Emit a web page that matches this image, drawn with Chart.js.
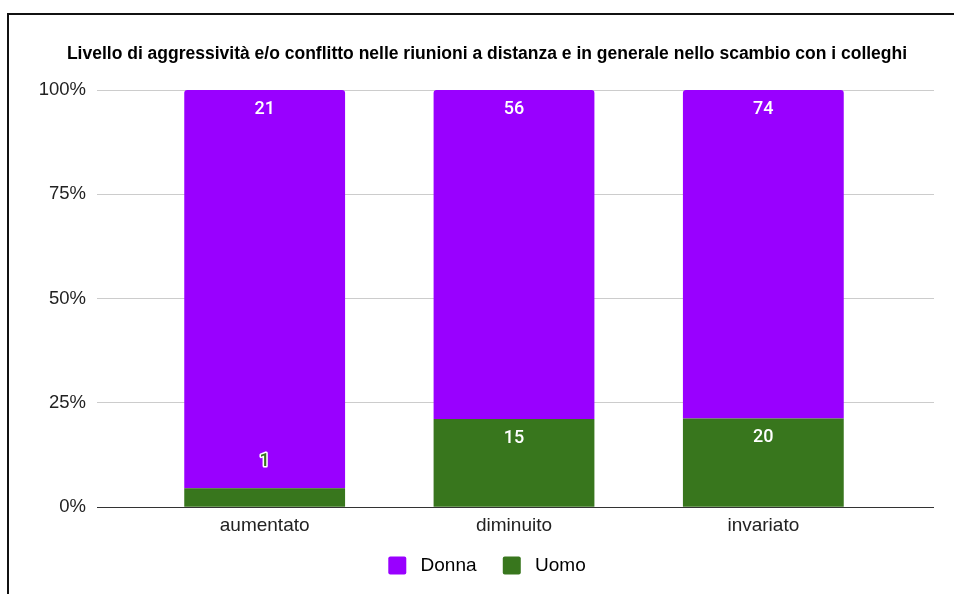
<!DOCTYPE html>
<html>
<head>
<meta charset="utf-8">
<script src="https://cdn.jsdelivr.net/npm/chart.js@4.4.0/dist/chart.umd.min.js"></script>
<style>
  html, body { margin: 0; padding: 0; background: #fff; overflow: hidden; width: 954px; height: 594px; }
  #frame { position: absolute; left: 7px; top: 13px; width: 960px; height: 600px; border-left: 2px solid #111; border-top: 2px solid #111; }
  #wrap { position: absolute; left: 9px; top: 15px; width: 956px; height: 580px; }
</style>
</head>
<body>
<div id="frame"></div>
<div id="wrap"><canvas id="chart" width="956" height="580"></canvas></div>
<script>
// Chart data (raw counts, shown as 100% stacked)
const categories = ['aumentato', 'diminuito', 'invariato'];
const donnaCounts = [21, 56, 74];
const uomoCounts = [1, 15, 20];
const yTickLabels = ['0%', '25%', '50%', '75%', '100%'];

const chartTitle = 'Livello di aggressività e/o conflitto nelle riunioni a distanza e in generale nello scambio con i colleghi';

// percentages per category
const totals = categories.map((c, i) => donnaCounts[i] + uomoCounts[i]);
const donnaPct = donnaCounts.map((v, i) => v / totals[i] * 100);
const uomoPct = uomoCounts.map((v, i) => v / totals[i] * 100);

const PURPLE = '#9900ff';
const GREEN = '#38761d';
const FONT = 'Arial, "Liberation Sans", sans-serif';

// Draws the count labels inside the bars
const countLabels = {
    id: 'countLabels',
    afterDatasetsDraw(chart) {
        const ctx = chart.ctx;
        ctx.save();
        ctx.font = '500 18px Roboto, Arial, sans-serif';
        ctx.textAlign = 'center';
        ctx.textBaseline = 'middle';
        chart.data.datasets.forEach((ds, di) => {
            const meta = chart.getDatasetMeta(di);
            meta.data.forEach((bar, i) => {
                const txt = String(ds.counts[i]);
                const h = Math.abs(bar.base - bar.y);
                if (h >= 36) {
                    ctx.fillStyle = '#ffffff';
                    ctx.fillText(txt, bar.x, bar.y + 19);
                } else {
                    // small segment: label sits above it, outlined
                    const y = bar.y - 27;
                    ctx.lineWidth = 3;
                    ctx.strokeStyle = '#ffffff';
                    ctx.lineJoin = 'round';
                    ctx.strokeText(txt, bar.x, y);
                    ctx.fillStyle = ds.backgroundColor;
                    ctx.fillText(txt, bar.x, y);
                }
            });
        });
        ctx.restore();
    }
};

const gridColor = (c) => (c.tick && c.tick.value === 0) ? '#333333' : '#cccccc';

new Chart(document.getElementById('chart'), {
    type: 'bar',
    data: {
        labels: categories,
        datasets: [
            {
                label: 'Uomo',
                data: uomoPct,
                counts: uomoCounts,
                backgroundColor: GREEN,
                categoryPercentage: 1,
                barPercentage: 0.645
            },
            {
                label: 'Donna',
                data: donnaPct,
                counts: donnaCounts,
                backgroundColor: PURPLE,
                borderRadius: { topLeft: 3, topRight: 3, bottomLeft: 0, bottomRight: 0 },
                borderSkipped: 'bottom',
                categoryPercentage: 1,
                barPercentage: 0.645
            }
        ]
    },
    options: {
        responsive: false,
        animation: false,
        layout: { padding: { left: 0, right: 0, top: 0, bottom: 10 } },
        plugins: {
            title: {
                display: true,
                text: chartTitle,
                color: '#000',
                font: { family: FONT, size: 17.5, weight: 'bold' },
                padding: { top: 29, bottom: 25 }
            },
            legend: {
                position: 'bottom',
                labels: {
                    boxWidth: 18,
                    boxHeight: 18,
                    padding: 12,
                    color: '#222',
                    font: { family: FONT, size: 19 },
                    // Donna first, then Uomo; a little extra room around the text
                    generateLabels(chart) {
                        const order = [1, 0];
                        return order.map((i, k) => {
                            const ds = chart.data.datasets[i];
                            return {
                                text: '\u2005' + ds.label + (k === 0 ? '\u2002\u2005' : ''),
                                fillStyle: ds.backgroundColor,
                                strokeStyle: ds.backgroundColor,
                                lineWidth: 0,
                                borderRadius: 2,
                                datasetIndex: i
                            };
                        });
                    }
                }
            },
            tooltip: { enabled: false }
        },
        scales: {
            x: {
                stacked: true,
                grid: { display: false, drawTicks: false },
                border: { display: false },
                ticks: {
                    color: '#222',
                    padding: 7,
                    font: { family: FONT, size: 19 }
                }
            },
            y: {
                stacked: true,
                min: 0,
                max: 100,
                afterFit(scale) { scale.width = 131; },
                border: { display: false },
                grid: { color: gridColor, tickColor: gridColor, tickLength: 43, lineWidth: 1 },
                ticks: {
                    stepSize: 25,
                    padding: 11,
                    color: '#222',
                    font: { family: FONT, size: 18.5 },
                    callback: (v) => yTickLabels[v / 25]
                }
            },
            yRight: {
                position: 'right',
                min: 0,
                max: 100,
                // gridlines run a bit past the bars on the right, rest is blank margin
                afterFit(scale) { scale.width = 77; },
                border: { display: false },
                grid: { color: gridColor, tickColor: gridColor, tickLength: 46, drawOnChartArea: false },
                ticks: { stepSize: 25, display: false }
            }
        }
    },
    plugins: [countLabels]
});
</script>
</body>
</html>
